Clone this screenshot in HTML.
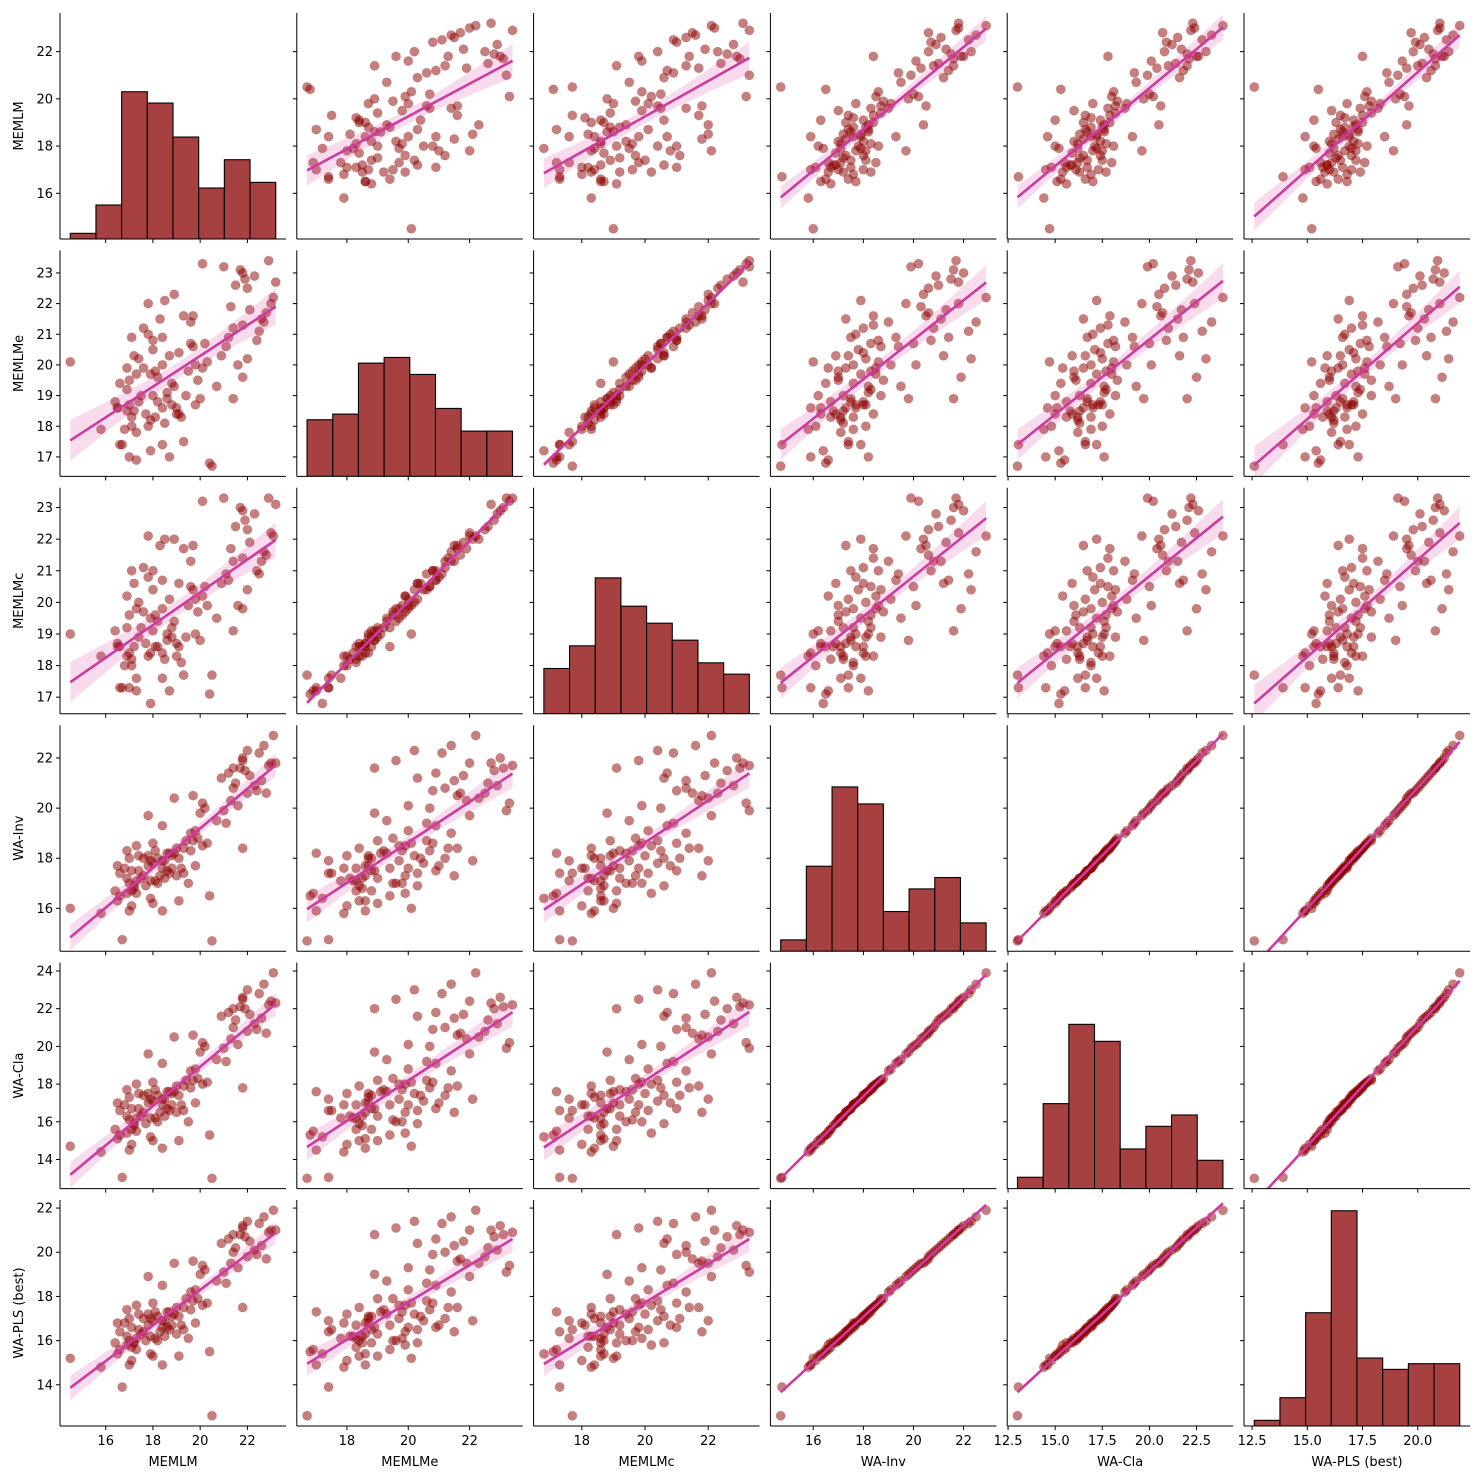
<!DOCTYPE html>
<html><head><meta charset="utf-8">
<style>
html,body{margin:0;padding:0;background:#fff;}
svg{display:block;font-family:"DejaVu Sans","Liberation Sans",sans-serif;}
</style></head>
<body>
<svg id="chart" width="1484" height="1482" viewBox="0 0 1484 1482" xmlns="http://www.w3.org/2000/svg"></svg>
<script>
const varNames = ['MEMLM','MEMLMe','MEMLMc','WA-Inv','WA-Cla','WA-PLS (best)'];
const MEMLM  = [20.5,16.7,14.5,15.8,16.5,17.0,17.1,16.6,17.3,17.1,18.0,17.9,18.4,16.9,19.1,16.4,20.4,17.0,17.2,16.9,17.6,18.1,17.4,18.4,16.6,17.8,18.2,18.5,17.1,19.0,16.5,17.7,18.8,17.3,19.3,18.0,17.5,18.6,19.5,16.8,18.3,19.8,17.9,18.7,17.2,19.2,17.9,18.2,17.4,18.9,17.0,19.6,18.4,19.3,17.8,20.1,18.6,19.7,16.9,18.0,19.0,17.6,19.9,18.8,17.3,18.5,20.3,18.1,19.4,18.7,21.8,19.1,19.6,18.4,20.7,19.8,17.8,21.1,20.0,20.2,21.3,19.7,21.6,22.0,20.1,22.4,18.9,21.4,21.0,22.8,21.5,22.1,21.7,20.9,23.0,21.9,22.6,21.2,22.9,21.8,22.3,21.4,23.2,22.5,21.8,22.7,23.1,22.0];
const MEMLMe = [16.7,17.4,20.1,17.9,18.6,17.0,18.0,19.4,16.9,18.3,19.0,17.2,18.6,19.9,18.4,18.8,16.8,19.5,20.3,18.5,19.9,18.3,18.8,20.0,17.4,21.0,19.6,18.1,20.9,18.6,18.6,18.4,19.4,17.8,17.5,20.5,19.0,18.9,19.8,17.9,21.5,18.7,18.2,20.3,18.5,18.3,19.7,18.8,20.2,19.3,18.7,20.7,17.4,21.6,18.0,19.9,19.1,20.6,19.2,20.8,18.4,21.2,19.5,18.7,19.7,22.1,20.1,19.8,19.0,17.0,21.3,20.4,21.4,20.9,19.3,20.0,22.0,20.6,18.9,20.7,21.9,21.6,20.0,22.5,23.3,20.8,22.3,21.2,23.2,21.7,22.6,21.8,23.1,20.3,22.0,22.8,21.5,20.9,23.4,19.6,22.9,18.9,22.7,21.1,23.0,21.4,22.2,20.2];
const MEMLMc = [17.7,17.3,19.0,18.3,18.7,17.3,18.0,18.6,17.2,18.2,19.1,16.8,18.4,20.2,18.6,19.1,17.1,19.6,20.6,18.3,19.7,18.6,18.9,19.8,17.3,20.8,19.4,18.2,21.0,18.7,18.6,18.7,19.2,17.6,17.7,20.4,19.2,18.8,19.9,18.0,21.8,19.0,18.4,20.1,18.6,18.1,19.5,18.6,20.0,19.4,18.4,20.5,17.6,21.7,18.3,20.2,19.0,20.4,19.2,21.0,18.3,21.1,19.7,18.9,19.8,22.0,19.9,19.6,18.9,17.2,21.4,20.6,21.3,20.7,19.5,20.1,22.1,20.9,18.8,20.5,21.7,21.8,19.9,22.3,23.2,21.0,22.0,21.3,23.3,21.5,22.4,21.9,23.0,20.6,22.2,22.6,21.3,20.7,23.3,19.8,22.8,19.1,23.1,20.9,22.9,21.6,22.1,20.4];
const WA_Inv = [14.7,14.75,16.0,15.8,16.3,15.9,16.1,16.5,16.6,16.7,16.2,16.4,15.9,16.6,16.3,16.7,16.5,17.0,16.9,17.2,17.3,17.1,17.5,17.6,17.4,17.7,17.0,17.2,17.5,17.3,17.7,16.9,17.6,17.1,17.4,17.8,17.2,17.5,17.0,17.6,17.3,17.7,17.1,17.4,16.8,17.6,17.9,18.0,18.1,18.2,18.0,18.3,17.9,18.4,18.1,18.5,18.2,18.7,18.3,18.6,18.4,18.0,18.8,18.1,18.5,17.9,18.6,18.3,18.7,18.2,18.4,18.0,19.0,19.3,19.5,19.1,19.7,19.4,19.8,20.0,20.3,20.5,20.1,20.6,20.2,20.7,20.4,20.8,19.9,20.6,21.0,21.3,21.6,21.2,21.8,21.5,21.1,21.4,21.7,21.9,20.9,21.6,21.8,22.2,22.0,22.5,22.9,22.3];
const WA_Cla = [13.0,13.05,14.7,14.4,15.1,14.5,14.8,15.3,15.5,15.6,15.0,15.2,14.6,15.4,15.0,15.6,15.3,16.1,15.9,16.3,16.5,16.2,16.7,16.9,16.6,17.0,16.0,16.3,16.7,16.5,17.0,15.9,16.9,16.2,16.6,17.1,16.3,16.7,16.0,16.9,16.5,17.0,16.2,16.6,15.8,16.9,17.2,17.4,17.5,17.6,17.3,17.8,17.2,17.9,17.5,18.0,17.6,18.2,17.7,18.1,17.9,17.4,18.3,17.5,18.0,17.2,18.1,17.7,18.2,17.6,17.8,17.4,18.7,19.1,19.3,18.8,19.6,19.2,19.7,20.0,20.4,20.6,20.1,20.8,20.2,20.9,20.5,21.0,19.9,20.7,21.4,21.7,22.1,21.6,22.4,22.0,21.5,21.8,22.2,22.5,21.2,22.0,22.3,22.8,22.6,23.3,23.9,23.0];
const WA_PLS = [12.6,13.9,15.2,14.8,15.4,14.9,15.1,15.6,15.6,15.7,15.3,15.4,14.9,15.8,15.3,15.9,15.5,16.0,15.9,16.2,16.4,16.1,16.5,16.6,16.4,16.7,16.0,16.2,16.6,16.3,16.8,16.0,16.7,16.1,16.5,16.9,16.3,16.6,16.1,16.8,16.4,16.8,16.2,16.5,15.9,16.7,17.0,17.1,17.2,17.2,17.0,17.4,16.9,17.5,17.2,17.6,17.3,17.8,17.4,17.7,17.5,17.0,17.9,17.1,17.6,16.9,17.7,17.3,17.9,17.3,17.5,17.1,18.2,18.5,18.7,18.3,18.9,18.6,19.0,19.2,19.5,19.6,19.3,19.8,19.4,19.9,19.5,20.0,19.1,19.7,20.2,20.5,20.8,20.4,21.0,20.7,20.3,20.6,20.9,21.1,20.1,20.8,21.0,21.3,21.2,21.6,21.9,21.4];

const histMEMLM  = [1,6,26,24,18,9,14,10];
const histMEMLMe = [10,11,20,21,18,12,8,8];
const histMEMLMc = [8,12,24,19,16,13,9,7];
const histWAInv  = [2,15,29,26,7,11,13,5];
const histWACla  = [2,15,29,26,7,11,13,5];
const histWAPLS  = [1,5,20,38,12,10,11,11];

const xTicksMEMLM = [16,18,20,22];
const xTicksMEMLMe = [18,20,22];
const xTicksMEMLMc = [18,20,22];
const xTicksWAInv = [16,18,20,22];
const xTicksWACla = [12.5,15.0,17.5,20.0,22.5];
const xTicksWAPLS = [12.5,15.0,17.5,20.0];
const yTicksMEMLM = [16,18,20,22];
const yTicksMEMLMe = [17,18,19,20,21,22,23];
const yTicksMEMLMc = [17,18,19,20,21,22,23];
const yTicksWAInv = [14,16,18,20,22];
const yTicksWACla = [12,14,16,18,20,22,24];
const yTicksWAPLS = [14,16,18,20,22];

const data = [MEMLM, MEMLMe, MEMLMc, WA_Inv, WA_Cla, WA_PLS];
const hists = [histMEMLM, histMEMLMe, histMEMLMc, histWAInv, histWACla, histWAPLS];
const xTicks = [xTicksMEMLM, xTicksMEMLMe, xTicksMEMLMc, xTicksWAInv, xTicksWACla, xTicksWAPLS];
const yTicks = [yTicksMEMLM, yTicksMEMLMe, yTicksMEMLMc, yTicksWAInv, yTicksWACla, yTicksWAPLS];
const xFmt = [0,0,0,0,1,1];

const NS = 'http://www.w3.org/2000/svg';
const svg = document.getElementById('chart');
const L0 = 60, CS = 236.8, W = 226, T0 = 13, RS = 237.4, H = 226;
function el(tag, attrs, parent){ const e = document.createElementNS(NS, tag); for (const k in attrs) e.setAttribute(k, attrs[k]); (parent||svg).appendChild(e); return e; }

const lims = data.map(a => { const mn = Math.min(...a), mx = Math.max(...a), p = (mx-mn)*0.05; return [mn-p, mx+p, mn, mx]; });
function sx(v, j){ const l = lims[j]; return L0 + j*CS + (v-l[0])/(l[1]-l[0])*W; }
function sy(v, i){ const l = lims[i]; return T0 + i*RS + H - (v-l[0])/(l[1]-l[0])*H; }
const diagMax = Math.max(...hists.map(h => Math.max(...h))) * 1.05;
const defs = el('defs', {});

for (let i = 0; i < 6; i++) {
  for (let j = 0; j < 6; j++) {
    const px = L0 + j*CS, py = T0 + i*RS;
    const cp = el('clipPath', {id:'c'+i+'_'+j}, defs);
    el('rect', {x:px, y:py, width:W, height:H}, cp);
    const g = el('g', {});
    
    
    const pg = el('g', {'clip-path':'url(#c'+i+'_'+j+')'}, g);
    if (i === j) {
      const h = hists[i], mn = lims[i][2], mx = lims[i][3], bw = (mx-mn)/h.length;
      h.forEach((c, k) => {
        const x0 = sx(mn + k*bw, j), x1 = sx(mn + (k+1)*bw, j);
        const bh = c / diagMax * H;
        const r = el('rect', {x:x0, y:py+H-bh, width:x1-x0, height:bh, fill:'#a74040', stroke:'#000', 'stroke-width':1.1}, pg);
        
        
      });
    } else {
      const xs = data[j], ys = data[i], n = xs.length;
      xs.forEach((xv, k) => {
        const c = el('circle', {cx:sx(xv,j), cy:sy(ys[k],i), r:4.6, fill:'#8b0000', 'fill-opacity':0.5, stroke:'#8b0000', 'stroke-opacity':0.15}, pg);
        
        
      });
      let xm = 0, ym = 0; for (let k=0;k<n;k++){ xm+=xs[k]; ym+=ys[k]; } xm/=n; ym/=n;
      let sxx=0, sxy=0; for (let k=0;k<n;k++){ sxx+=(xs[k]-xm)**2; sxy+=(xs[k]-xm)*(ys[k]-ym); }
      const b = sxy/sxx, a = ym - b*xm;
      let sse=0; for (let k=0;k<n;k++){ sse += (ys[k]-a-b*xs[k])**2; }
      const s = Math.sqrt(sse/(n-2)), t = 1.98;
      const x0 = lims[j][2], x1 = lims[j][3], up=[], lo=[];
      for (let q=0;q<=40;q++){ const xv = x0+(x1-x0)*q/40, yh = a+b*xv, se = s*Math.sqrt(1/n+(xv-xm)**2/sxx);
        up.push(sx(xv,j)+','+sy(yh+t*se,i)); lo.unshift(sx(xv,j)+','+sy(yh-t*se,i)); }
      const band = el('polygon', {points: up.concat(lo).join(' '), fill:'#d63fa0', 'fill-opacity':0.18, stroke:'none'}, pg);
      
      
      const ln = el('line', {x1:sx(x0,j), y1:sy(a+b*x0,i), x2:sx(x1,j), y2:sy(a+b*x1,i), stroke:'#cf3a9e', 'stroke-width':2.6}, pg);
      
      
    }
    el('line', {x1:px, y1:py, x2:px, y2:py+H, stroke:'#000', 'stroke-width':1}, g);
    el('line', {x1:px, y1:py+H, x2:px+W, y2:py+H, stroke:'#000', 'stroke-width':1}, g);
    yTicks[i].filter(v => v >= lims[i][0] && v <= lims[i][1]).forEach(v => { const y = sy(v,i); el('line', {x1:px-4, y1:y, x2:px, y2:y, stroke:'#000', 'stroke-width':1}, g);
      if (j === 0) { const tx = el('text', {x:px-7, y:y+4.5, 'text-anchor':'end', 'font-size':13, fill:'#000'}, g); tx.textContent = String(v);
          } });
    xTicks[j].filter(v => v >= lims[j][0] && v <= lims[j][1]).forEach(v => { const x = sx(v,j); el('line', {x1:x, y1:py+H, x2:x, y2:py+H+4, stroke:'#000', 'stroke-width':1}, g);
      if (i === 5) { const tx = el('text', {x:x, y:py+H+19, 'text-anchor':'middle', 'font-size':13, fill:'#000'}, g); tx.textContent = xFmt[j] ? v.toFixed(1) : String(v);
          } });
  }
}
for (let j = 0; j < 6; j++) {
  const tx = el('text', {x:L0+j*CS+W/2, y:1466, 'text-anchor':'middle', 'font-size':13, fill:'#000'});
  tx.textContent = varNames[j];
  
  
}
for (let i = 0; i < 6; i++) {
  const cy = T0+i*RS+H/2;
  const tx = el('text', {x:0, y:0, transform:'translate(23,'+cy+') rotate(-90)', 'text-anchor':'middle', 'font-size':13, fill:'#000'});
  tx.textContent = varNames[i];
  
  
}
</script>
</body></html>
